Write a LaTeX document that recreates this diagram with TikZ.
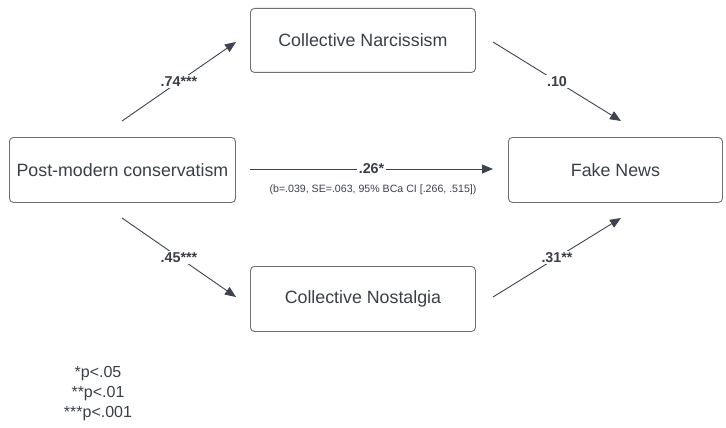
\documentclass[tikz,border=0pt]{standalone}
\usepackage{fontspec}
\setmainfont{Liberation Sans}
\usetikzlibrary{arrows.meta}
\definecolor{txt}{HTML}{3A3F47}
\definecolor{edge}{HTML}{3D4450}
\definecolor{boxline}{HTML}{6E7078}
\begin{document}
\begin{tikzpicture}[x=1pt,y=-1pt,
  box/.style={draw=boxline, line width=0.9pt, rounded corners=4pt, inner sep=0pt, anchor=north west},
  boxtext/.style={text=txt, font=\fontsize{17.8}{20}\selectfont},
  link/.style={draw=edge, line width=0.9pt, -{Triangle[length=11pt,width=9pt]}},
  lab/.style={fill=white, text=txt, font=\bfseries\fontsize{14.3}{16}\selectfont, inner sep=1.5pt},
  note/.style={text=txt, font=\fontsize{10.6}{12}\selectfont},
  legend/.style={text=txt, font=\fontsize{16}{20}\selectfont, align=center}]
\useasboundingbox (0,0) rectangle (726,428);
\node[box, minimum width=226pt, minimum height=65pt] (pmc) at (9,137) {};
\node[boxtext] at (pmc.center) {Post-modern conservatism};
\node[box, minimum width=225pt, minimum height=64pt] (cn) at (250,8) {};
\node[boxtext] at (cn.center) {Collective Narcissism};
\node[box, minimum width=214pt, minimum height=65pt] (fn) at (508,137) {};
\node[boxtext] at (fn.center) {Fake News};
\node[box, minimum width=225pt, minimum height=65pt] (cnos) at (250,266) {};
\node[boxtext] at (cnos.center) {Collective Nostalgia};
\coordinate (a1) at (122,121); \coordinate (b1) at (236,42);
\coordinate (a2) at (493,42); \coordinate (b2) at (621,121);
\coordinate (a3) at (250,169); \coordinate (b3) at (493,169);
\coordinate (a4) at (122,218); \coordinate (b4) at (236,297);
\coordinate (a5) at (493,297); \coordinate (b5) at (621,218);
\draw[link] (a1) -- (b1) node[lab, pos=0.5] (l1) {.74***};
\draw[link] (a2) -- (b2) node[lab, pos=0.5] (l2) {.10};
\draw[link] (a3) -- (b3) node[lab, pos=0.5] (l3) {.26*};
\draw[link] (a4) -- (b4) node[lab, pos=0.5] (l4) {.45***};
\draw[link] (a5) -- (b5) node[lab, pos=0.5] (l5) {.31**};
\node[note] (n1) at (373,190) {(b=.039, SE=.063, 95\% BCa CI [.266, .515])};
\node[legend] (leg) at (98,394) {*p<.05\\**p<.01\\***p<.001};
\end{tikzpicture}
\end{document}
